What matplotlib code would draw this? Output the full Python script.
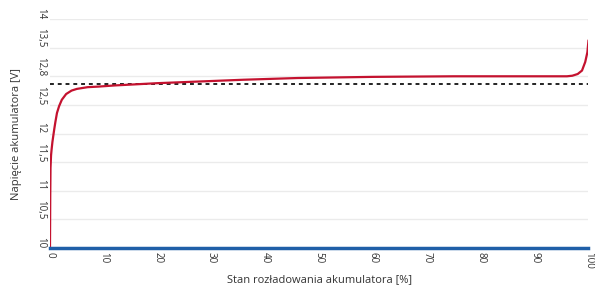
import matplotlib
matplotlib.use('Agg')
import matplotlib.pyplot as plt  # wykresy
import numpy as np

# dane
stan = [0, 0.05, 0.1, 0.2, 0.3, 0.45, 0.6, 0.8, 1.0, 1.3, 1.7, 2.2, 3.0, 4.0, 5.0, 7, 9, 12, 16, 20,
        28, 36, 46, 60, 75, 85, 93, 96, 97, 98, 98.8, 99.4, 99.8, 100]
napiecie = [10, 10.9, 11.4, 11.62, 11.72, 11.85, 11.95, 12.08, 12.2, 12.36, 12.48, 12.59, 12.69, 12.75,
            12.78, 12.81, 12.82, 12.84, 12.86, 12.88, 12.91, 12.94, 12.97, 12.99, 13.0, 13.0, 13.0, 13.0,
            13.01, 13.04, 13.1, 13.25, 13.42, 13.62]
zero_x = [0, 100]
zero_y = [10, 10]
prog = 12.87  # linia przerywana

y_ticks = [10, 10.5, 11, 11.5, 12, 12.5, 13, 13.5, 14]
y_labels = ['10', '10,5', '11', '11,5', '12', '12,5', '12,8', '13,5', '14']
x_ticks = [0, 10, 20, 30, 40, 50, 60, 70, 80, 90, 100]

plt.rcParams['font.family'] = ['Open Sans', 'DejaVu Sans']

fig = plt.figure(figsize=(5.95, 2.89), dpi=100)
ax = fig.add_axes([0.084, 0.142, 0.905, 0.792])

ax.plot(stan, napiecie, color='#c4122f', linewidth=1.6, zorder=3)
ax.plot(zero_x, zero_y, color='#1f5fa8', linewidth=2.5, zorder=4, clip_on=False)
ax.axhline(prog, color='#222222', linewidth=1.4, linestyle=(0, (2, 2)), zorder=2)

ax.set_xlim(0, 100)
ax.set_ylim(10, 14)
ax.set_yticks(y_ticks)
ax.set_yticklabels(y_labels, rotation=270, va='bottom', fontsize=7, color='#333333')
ax.set_xticks(x_ticks)
ax.set_xticklabels([str(t) for t in x_ticks], rotation=270, fontsize=7, color='#333333')
ax.tick_params(length=0, pad=3)
ax.grid(axis='y', color='#ebebeb', linewidth=1)
ax.set_axisbelow(True)
for s in ax.spines.values():
    s.set_visible(False)

ax.set_xlabel('Stan rozładowania akumulatora [%]', fontsize=8, color='#333333', labelpad=4)
ax.set_ylabel('Napięcie akumulatora [V]', fontsize=8, color='#333333', labelpad=9)

fig.savefig('out.png', dpi=100, facecolor='white')
